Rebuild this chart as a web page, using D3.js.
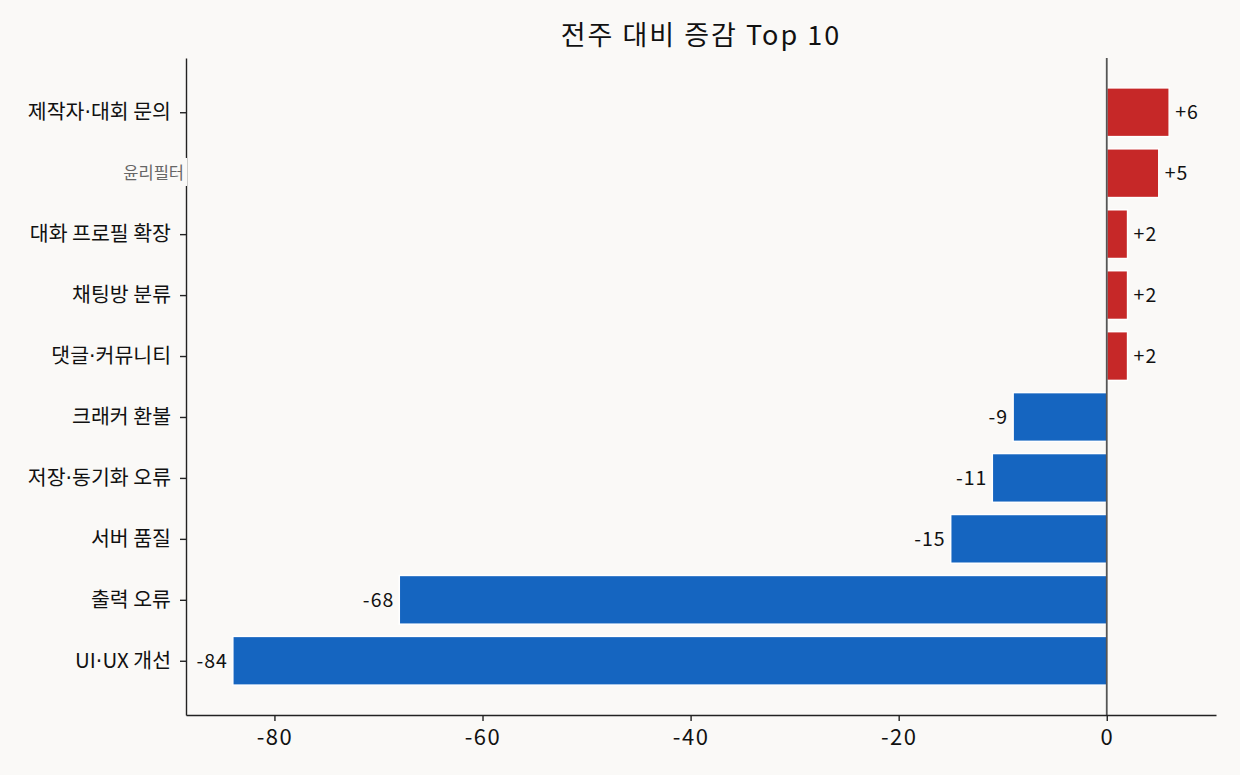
<!DOCTYPE html>
<html>
<head>
<meta charset="utf-8">
<script src="https://cdn.jsdelivr.net/npm/d3@7"></script>
<style>
    body { margin: 0; background: #faf9f7; }
    svg { display: block; font-family: "Noto Sans CJK KR", "Noto Sans", sans-serif; }
</style>
</head>
<body>
<div class="chart"></div>
<script>
// data, top to bottom
const categories = ['제작자·대회 문의', '윤리필터', '대화 프로필 확장', '채팅방 분류', '댓글·커뮤니티',
    '크래커 환불', '저장·동기화 오류', '서버 품질', '출력 오류', 'UI·UX 개선'];
const changes = [6, 5, 2, 2, 2, -9, -11, -15, -68, -84];
const xTicks = [-80, -60, -40, -20, 0];
const mutedLabels = ['윤리필터']; // drawn small and grey on a patch
const title = '전주 대비 증감 Top 10';

const width = 1240, height = 775;
const margin = { top: 58, right: 24, bottom: 60, left: 186 };
const bg = '#faf9f7';
const rows = categories.map((c, i) => ({ name: c, value: changes[i] }));

const svg = d3.select('.chart').append('svg')
    .attr('width', width)
    .attr('height', height);

svg.append('rect').attr('width', width).attr('height', height).attr('fill', bg);

const x = d3.scaleLinear()
    .domain([-88.5, 10.5])
    .range([margin.left, width - margin.right]);

// index scale with matplotlib style padding
const y = d3.scaleLinear()
    .domain([-0.89, categories.length - 1 + 0.89])
    .range([margin.top, height - margin.bottom]);
const barH = (y(1) - y(0)) * 0.8;

// bars
svg.append('g').selectAll('rect')
    .data(rows)
    .join('rect')
    .attr('x', d => x(Math.min(0, d.value)))
    .attr('y', (d, i) => y(i) - barH / 2)
    .attr('width', d => Math.abs(x(d.value) - x(0)))
    .attr('height', barH)
    .attr('fill', d => d.value >= 0 ? '#c62828' : '#1565c0')
    .attr('stroke', '#fff')
    .attr('stroke-width', 1.5);

// zero line
svg.append('line')
    .attr('x1', x(0)).attr('x2', x(0))
    .attr('y1', margin.top).attr('y2', height - margin.bottom)
    .attr('stroke', '#555')
    .attr('stroke-width', 1.8);

// value labels
svg.append('g').selectAll('text')
    .data(rows)
    .join('text')
    .attr('x', d => d.value >= 0 ? x(d.value) + 6 : x(d.value) - 5)
    .attr('y', (d, i) => y(i))
    .attr('dy', '0.36em')
    .attr('text-anchor', d => d.value >= 0 ? 'start' : 'end')
    .attr('font-size', 19.5)
    .attr('letter-spacing', 1)
    .attr('fill', '#111')
    .text(d => (d.value > 0 ? '+' : '') + d.value);

// x axis
const xAxis = svg.append('g')
    .attr('transform', `translate(0,${height - margin.bottom})`)
    .call(d3.axisBottom(x).tickValues(xTicks).tickSize(6).tickSizeOuter(0).tickPadding(8)
        .tickFormat(d3.format('d')));
xAxis.select('.domain').attr('stroke', '#222').attr('stroke-width', 1.4);
xAxis.selectAll('.tick line').attr('stroke', '#222').attr('stroke-width', 1.4);
xAxis.selectAll('.tick text')
    .attr('font-size', 22)
    .attr('letter-spacing', 1.5)
    .attr('fill', '#111')
    .attr('font-family', '"Noto Sans CJK KR", sans-serif')
    .text(d => d < 0 ? '-' + Math.abs(d) : d);

// y axis
const yAxis = svg.append('g')
    .attr('transform', `translate(${margin.left},0)`)
    .call(d3.axisLeft(y).tickValues(d3.range(categories.length)).tickSize(6).tickSizeOuter(0).tickPadding(9)
        .tickFormat(i => categories[i]));
yAxis.select('.domain').attr('stroke', '#222').attr('stroke-width', 1.4);
yAxis.selectAll('.tick line').attr('stroke', '#222').attr('stroke-width', 1.4);
yAxis.selectAll('.tick text')
    .attr('font-size', 20.5)
    .attr('fill', '#111')
    .attr('font-family', '"Noto Sans CJK KR", sans-serif')
    .each(function (i) {
        // narrow middle dot, the CJK one is full width
        const t = d3.select(this).text('');
        categories[i].split('·').forEach((part, k) => {
            if (k > 0) t.append('tspan').attr('font-family', '"DejaVu Sans"').text('·');
            t.append('tspan').text(part);
        });
    });

// muted labels sit on a background patch that hides spine and tick
yAxis.selectAll('.tick')
    .filter(i => mutedLabels.includes(categories[i]))
    .each(function () {
        const tick = d3.select(this);
        tick.select('line').remove();
        const label = tick.select('text')
            .attr('font-size', 16.5)
            .attr('fill', '#666')
            .attr('x', -2);
        const box = label.node().getBBox();
        tick.insert('rect', 'text')
            .attr('x', box.x - 3)
            .attr('y', box.y - 2)
            .attr('width', box.width + 6)
            .attr('height', box.height + 4)
            .attr('fill', bg);
    });

// title
svg.append('text')
    .attr('x', (margin.left + width - margin.right) / 2)
    .attr('y', 36)
    .attr('dy', '0.35em')
    .attr('text-anchor', 'middle')
    .attr('font-size', 27)
    .attr('letter-spacing', 2)
    .attr('fill', '#111')
    .text(title);
</script>
</body>
</html>
